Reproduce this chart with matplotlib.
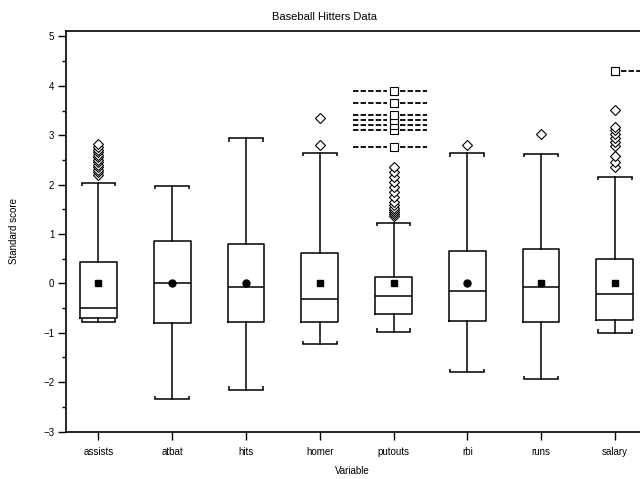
import matplotlib
matplotlib.use("Agg")
import matplotlib.pyplot as plt

plt.rcParams['font.family'] = ['Liberation Sans', 'DejaVu Sans']

variables = ["assists", "atbat", "hits", "homer", "putouts", "rbi", "runs", "salary"]
q1 = [-0.71, -0.81, -0.78, -0.78, -0.62, -0.76, -0.78, -0.75]
med = [-0.49, 0.00, -0.08, -0.32, -0.26, -0.16, -0.08, -0.22]
q3 = [0.43, 0.86, 0.79, 0.62, 0.13, 0.66, 0.69, 0.49]
whislo = [-0.79, -2.35, -2.15, -1.23, -0.98, -1.80, -1.94, -1.00]
whishi = [2.04, 1.98, 2.94, 2.64, 1.23, 2.63, 2.62, 2.16]
means = [0.0, 0.0, 0.0, 0.0, 0.0, 0.0, 0.0, 0.0]
mean_markers = ["s", "o", "o", "s", "s", "o", "s", "s"]
outliers = [
    [2.20, 2.25, 2.30, 2.35, 2.40, 2.45, 2.50, 2.55, 2.60, 2.65, 2.70, 2.76, 2.82],
    [],
    [],
    [2.80, 3.35],
    [1.36, 1.40, 1.44, 1.48, 1.52, 1.58, 1.65, 1.75, 1.85, 1.95, 2.05, 2.15, 2.25, 2.35],
    [2.80],
    [3.02],
    [2.35, 2.45, 2.58, 2.78, 2.86, 2.95, 3.03, 3.10, 3.17, 3.52],
]
extremes = [[], [], [], [], [2.76, 3.10, 3.20, 3.30, 3.40, 3.65, 3.89], [], [], [4.30]]
label_sides = ["both", "both", "both", "both", "both", "both", "both", "right"]

positions = list(range(1, len(variables) + 1))

fig = plt.figure(figsize=(6.4, 4.79), dpi=100)
W, H = 640, 479
left_px, right_px, top_px, bot_px = 65.5, 648, 31, 432
ax = fig.add_axes([left_px / W, 1 - bot_px / H, (right_px - left_px) / W, (bot_px - top_px) / H])

stats = []
for i in range(len(variables)):
    stats.append(dict(med=med[i], q1=q1[i], q3=q3[i], whislo=whislo[i], whishi=whishi[i],
                      fliers=outliers[i], label=variables[i]))

lw = 1.1
ax.bxp(stats, positions=positions, widths=0.5, capwidths=0.46, showmeans=False,
       boxprops=dict(color="black", linewidth=lw),
       whiskerprops=dict(color="black", linewidth=lw),
       capprops=dict(color="black", linewidth=lw),
       medianprops=dict(color="black", linewidth=lw),
       flierprops=dict(marker="D", markersize=5, markerfacecolor="white",
                       markeredgecolor="black", markeredgewidth=0.8, linestyle="none"))

# small end ticks on caps
cw = 0.23
tick = 0.07
for p, lo, hi in zip(positions, whislo, whishi):
    for xe in (p - cw, p + cw):
        ax.plot([xe, xe], [hi, hi - tick], color="black", lw=lw, solid_capstyle="butt")
        ax.plot([xe, xe], [lo, lo + tick], color="black", lw=lw, solid_capstyle="butt")

# means
for p, m, mk in zip(positions, means, mean_markers):
    ax.plot([p], [m], marker=mk, color="black", markersize=5, linestyle="none", zorder=5)

# extreme outliers (labelled)
for p, ex, side in zip(positions, extremes, label_sides):
    for v in ex:
        ax.plot([p], [v], marker="s", markersize=6, markerfacecolor="white",
                markeredgecolor="black", markeredgewidth=0.8, linestyle="none", zorder=4)
        if side == "both":
            ax.plot([p - 0.55, p - 0.09], [v, v], color="black", lw=1.3, ls=(0, (3, 1.2)))
        ax.plot([p + 0.09, p + 0.46], [v, v], color="black", lw=1.3, ls=(0, (3, 1.2)))

ax.set_xlim(0.553, 8.45)
ax.set_ylim(-3.01, 5.11)
ax.set_yticks(range(-3, 6))
ax.set_yticklabels([str(v) if v >= 0 else "\u2212" + str(-v) for v in range(-3, 6)])
ax.set_yticks([v + 0.5 for v in range(-3, 5)], minor=True)
ax.set_xticks(positions)
ax.set_xticklabels(variables)
ax.tick_params(axis="both", which="major", length=6, width=1, labelsize=7, direction="out", pad=2)
ax.tick_params(axis="x", which="major", pad=5)
ax.tick_params(axis="y", which="minor", length=3, width=1)
for s in ax.spines.values():
    s.set_linewidth(1.2)
ax.spines["right"].set_visible(False)

ax.set_xlabel("Variable", fontsize=7)
ax.set_ylabel("Standard score", fontsize=7)
ax.yaxis.set_label_coords(-0.08, 0.5)
ax.xaxis.set_label_coords(0.492, -0.085)
fig.text(324 / W, 1 - 17 / H, "Baseball Hitters Data", ha="center", va="center", fontsize=8)

fig.savefig("out.png", dpi=100)
